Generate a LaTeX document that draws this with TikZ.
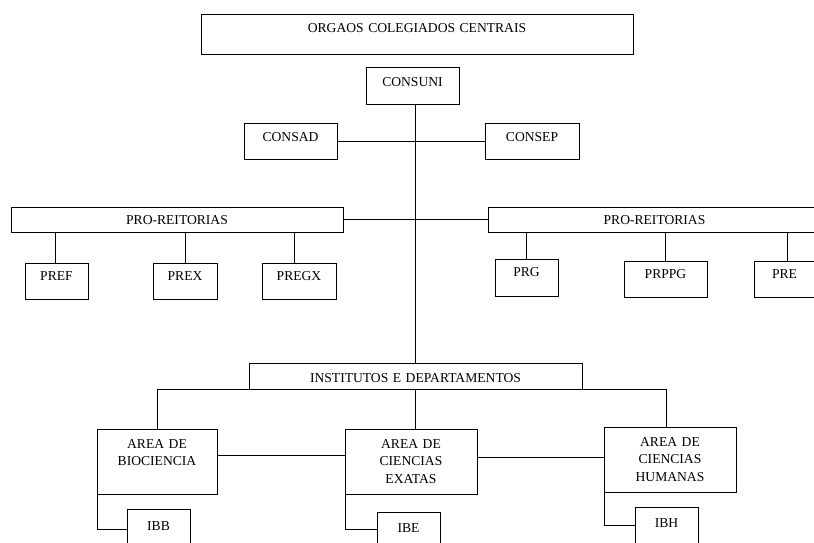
\documentclass[tikz,border=0pt]{standalone}
\usepackage{fontspec}
\setmainfont{Liberation Serif}
\usetikzlibrary{positioning}

\begin{document}
\begin{tikzpicture}[x=1pt, y=-1pt,
    box/.style={draw, line width=1pt, inner sep=0pt, outer sep=0pt, anchor=north west, align=center,
                text height=18pt, font=\fontsize{13.6}{17.5}\selectfont},
    link/.style={line width=1pt}]

    \useasboundingbox[fill=white] (0,0) rectangle (814,542);
    \clip (0,0) rectangle (814,542);

    % top of the chart
    \node[box, text width=432pt, text depth=22pt] (orgaos) at (201,14) {ORGAOS COLEGIADOS CENTRAIS};
    \node[box, text width=93pt, text height=19pt, text depth=18pt] (consuni) at (366,67) {CONSUNI};
    \node[box, text width=93pt, text depth=18pt] (consad) at (244,123) {CONSAD};
    \node[box, text width=94pt, text depth=18pt] (consep) at (485,123) {CONSEP};

    % pro-reitorias
    \node[box, text width=332pt, text height=17pt, text depth=8pt] (proL) at (11,207) {PRO-REITORIAS};
    \node[box, text width=333pt, text height=17pt, text depth=8pt] (proR) at (488,207) {PRO-REITORIAS};
    \node[box, text width=63pt, text height=17pt, text depth=19pt] (pref) at (25,263) {PREF};
    \node[box, text width=64pt, text height=17pt, text depth=19pt] (prex) at (153,263) {PREX};
    \node[box, text width=74pt, text height=17pt, text depth=19pt] (pregx) at (262,263) {PREGX};
    \node[box, text width=63pt, text height=17pt, text depth=20pt] (prg) at (495,259) {PRG};
    \node[box, text width=83pt, text height=17pt, text depth=19pt] (prppg) at (624,261) {PRPPG};
    \node[box, text width=61pt, text height=17pt, text depth=19pt] (pre) at (754,261) {PRE};

    % institutos e areas
    \node[box, text width=333pt, text height=19pt, text depth=7pt] (inst) at (249,363) {INSTITUTOS E DEPARTAMENTOS};
    \node[box, text width=120pt, text height=19pt, text depth=46pt] (bio) at (97,429) {AREA DE\\BIOCIENCIA};
    \node[box, text width=132pt, text height=19pt, text depth=46pt] (exatas) at (345,429) {AREA DE\\CIENCIAS\\EXATAS};
    \node[box, text width=132pt, text height=19pt, text depth=46pt] (humanas) at (604,427) {AREA DE\\CIENCIAS\\HUMANAS};
    \node[box, text width=63pt, text height=21pt, text depth=19pt] (ibb) at (127,509) {IBB};
    \node[box, text width=63pt, text height=20pt, text depth=14pt] (ibe) at (377,512) {IBE};
    \node[box, text width=63pt, text height=20pt, text depth=16pt] (ibh) at (635,507) {IBH};

    % connectors
    \draw[link] (inst.north) -- (inst.north |- consuni.south);
    \draw[link] (consad.east) -- (consep.west);
    \draw[link] (proL.east) -- (proR.west);
    \draw[link] ([xshift=-1.5pt]pref.north) -- ([xshift=-1.5pt]pref.north |- proL.south);
    \draw[link] (prex.north) -- (prex.north |- proL.south);
    \draw[link] ([xshift=-5pt]pregx.north) -- ([xshift=-5pt]pregx.north |- proL.south);
    \draw[link] (prg.north) -- (prg.north |- proR.south);
    \draw[link] (prppg.north) -- (prppg.north |- proR.south);
    \draw[link] ([xshift=2.5pt]pre.north) -- ([xshift=2.5pt]pre.north |- proR.south);

    \draw[link] (inst.south west) -| (bio.north);
    \draw[link] (inst.south) -- (inst.south |- exatas.north);
    \draw[link] (inst.south east) -| ([xshift=-4pt]humanas.north);
    \draw[link] ([yshift=6pt]bio.east) -- ([yshift=6pt]bio.east -| exatas.west);
    \draw[link] ([yshift=4pt]exatas.east) -- ([yshift=4pt]exatas.east -| humanas.west);

    \draw[link] (bio.south west) |- (ibb.west);
    \draw[link] (exatas.south west) |- (ibe.west);
    \draw[link] (humanas.south west) |- (ibh.west);

\end{tikzpicture}
\end{document}
